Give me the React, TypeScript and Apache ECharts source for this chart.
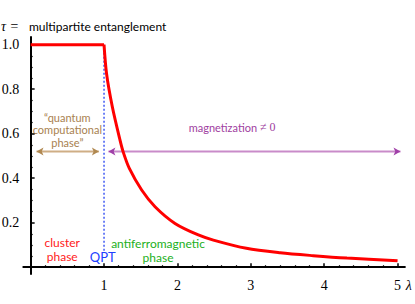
import React, { useEffect, useRef } from "react";
import * as echarts from "echarts";

// entanglement curve: flat part (cluster phase) and decaying part
const flatLambda = [0, 1];
const flatTau = [1, 1];
const decayLambda = [1, 1.034, 1.113, 1.218, 1.263, 1.345, 1.513, 1.695, 1.967, 2.285, 2.49, 2.94, 3.4, 3.85, 4.31, 5];
const decayTau = [1, 0.871, 0.721, 0.571, 0.516, 0.444, 0.347, 0.272, 0.197, 0.145, 0.122, 0.085, 0.065, 0.052, 0.041, 0.029];

// QPT marker line
const qptLambda = [1, 1];
const qptTau = [1, 0.064];

// phase arrows
const arrowTau = 0.52;
const computationalArrow = [0.08, 0.93];
const magnetizationArrow = [1.06, 5.04];

// axes
const xMajorTicks = [1, 2, 3, 4, 5];
const xLabelValues = [1, 2, 3, 4, 5, 5.1];
const xMinorTicks = [0.2, 0.4, 0.6, 0.8, 1.2, 1.4, 1.6, 1.8, 2.2, 2.4, 2.6, 2.8, 3.2, 3.4, 3.6, 3.8, 4.2, 4.4, 4.6, 4.8];
const yMajorTicks = [0.2, 0.4, 0.6, 0.8, 1.0];
const yMinorTicks = [0.05, 0.1, 0.15, 0.25, 0.3, 0.35, 0.45, 0.5, 0.55, 0.65, 0.7, 0.75, 0.85, 0.9, 0.95];

const zip = (a: number[], b: number[]) => a.map((v, i) => [v, b[i]]);

export default function App() {
  const ref = useRef<HTMLDivElement>(null);
  useEffect(() => {
    const el = ref.current!;
    const chart = echarts.init(el, null, { renderer: "svg" });
    const serif = "Liberation Serif";
    const sans = "Lato";
    const majorX = {
      type: "value", min: -0.1, max: 5.1, position: "bottom",
      axisLine: { show: true, onZero: true, onZeroAxisIndex: 0, lineStyle: { color: "#000", width: 2 } },
      axisTick: { show: true, inside: true, length: 4, customValues: xMajorTicks, lineStyle: { color: "#000", width: 1.5 } },
      axisLabel: {
        show: true, customValues: xLabelValues, margin: 5, fontFamily: serif, fontSize: 14, color: "#000",
        showMaxLabel: true, hideOverlap: false,
        formatter: (v: number) => (v > 5.05 ? "{l|\u03BB}" : String(v)),
        rich: { l: { fontFamily: serif, fontSize: 14, fontStyle: "italic", color: "#000", padding: [0, 0, 0, 8] } },
      },
      splitLine: { show: false },
    };
    const minorX = {
      type: "value", min: -0.1, max: 5.1, position: "bottom",
      axisLine: { show: false, onZero: true, onZeroAxisIndex: 0 },
      axisTick: { show: true, inside: true, length: 2, customValues: xMinorTicks, lineStyle: { color: "#000", width: 1.2 } },
      axisLabel: { show: false },
      splitLine: { show: false },
    };
    const majorY = {
      type: "value", min: -0.03, max: 1.035, position: "left",
      axisLine: { show: true, onZero: true, onZeroAxisIndex: 0, lineStyle: { color: "#000", width: 2 } },
      axisTick: { show: true, inside: true, length: 4, customValues: yMajorTicks, lineStyle: { color: "#000", width: 1.5 } },
      axisLabel: { show: true, customValues: yMajorTicks, margin: 4, fontFamily: serif, fontSize: 14, color: "#000", formatter: (v: number) => v.toFixed(1) },
      splitLine: { show: false },
    };
    const minorY = {
      type: "value", min: -0.03, max: 1.035, position: "left",
      axisLine: { show: false, onZero: true, onZeroAxisIndex: 0 },
      axisTick: { show: true, inside: true, length: 2, customValues: yMinorTicks, lineStyle: { color: "#000", width: 1.2 } },
      axisLabel: { show: false },
      splitLine: { show: false },
    };
    const arrowSeries = (xs: number[], lineColor: string, headColor: string) => ({
      type: "line",
      data: [
        { value: [xs[0], arrowTau], symbol: "arrow", symbolRotate: 90 },
        { value: [xs[1], arrowTau], symbol: "arrow", symbolRotate: -90 },
      ],
      symbolSize: [6, 7],
      showSymbol: true,
      itemStyle: { color: headColor },
      lineStyle: { color: lineColor, width: 2 },
      silent: true,
      clip: false,
      z: 3,
    });
    chart.setOption({
      animation: false,
      title: {
        text: "{t|\u03C4 =}  {m|multipartite entanglement}",
        left: 1, top: 17, padding: 0,
        textStyle: {
          fontWeight: "normal",
          rich: {
            t: { fontFamily: serif, fontSize: 14, fontStyle: "italic", fontWeight: "normal", color: "#000", lineHeight: 14 },
            m: { fontFamily: sans, fontSize: 12, fontWeight: "normal", color: "#000", lineHeight: 14 },
          },
        },
      },
      grid: { left: 23.3, right: 10.1, top: 36.9, bottom: 30.1, containLabel: false, outerBoundsMode: "none" },
      xAxis: [majorX, minorX],
      yAxis: [majorY, minorY],
      series: [
        arrowSeries(computationalArrow, "#cfae85", "#b08850"),
        arrowSeries(magnetizationArrow, "#c98bc9", "#a040a8"),
        {
          type: "line", data: zip(qptLambda, qptTau), showSymbol: false, silent: true,
          lineStyle: { color: "#1030f0", width: 1.2, type: [2, 2] }, z: 2,
        },
        {
          type: "line", data: zip(flatLambda, flatTau), showSymbol: false, silent: true,
          lineStyle: { color: "#ff0000", width: 3 }, z: 4,
        },
        {
          type: "line", data: zip(decayLambda, decayTau), showSymbol: false, silent: true, smooth: 0.3,
          lineStyle: { color: "#ff0000", width: 3 }, z: 4,
        },
      ],
    });

    const px = (p: number[]) => chart.convertToPixel({ xAxisIndex: 0, yAxisIndex: 0 }, p) as number[];
    const annotations = [
      { text: "\u201Cquantum\ncomputational\nphase\u201D", at: [0.5, 0.617], color: "#a8814f", size: 11, lh: 12.5 },
      { text: "cluster\nphase", at: [0.43, 0.079], color: "#ff2020", size: 12, lh: 13.5 },
      { text: "QPT", at: [0.982, 0.047], color: "#2040ff", size: 13, lh: 14 },
      { text: "antiferromagnetic\nphase", at: [1.736, 0.077], color: "#22b022", size: 12, lh: 14 },
    ];
    const graphic: any[] = annotations.map((a) => {
      const p = px(a.at);
      return {
        type: "text", x: p[0], y: p[1], silent: true,
        style: { text: a.text, fill: a.color, font: `${a.size}px ${sans}`, lineHeight: a.lh, align: "center", verticalAlign: "middle" },
      };
    });
    const mag = px([2.745, 0.63]);
    graphic.push({
      type: "text", x: mag[0], y: mag[1], silent: true,
      style: {
        text: "{a|magnetization }{b|\u2260 0}", align: "center", verticalAlign: "middle",
        rich: {
          a: { fill: "#a040a0", font: `11px ${sans}`, lineHeight: 13 },
          b: { fill: "#a040a0", font: `12px ${serif}`, lineHeight: 13 },
        },
      },
    });
    chart.setOption({ graphic });
    return () => chart.dispose();
  }, []);
  return <div ref={ref} style={{ position: "fixed", left: 0, top: 0, width: 415, height: 304, background: "#fff" }} />;
}
